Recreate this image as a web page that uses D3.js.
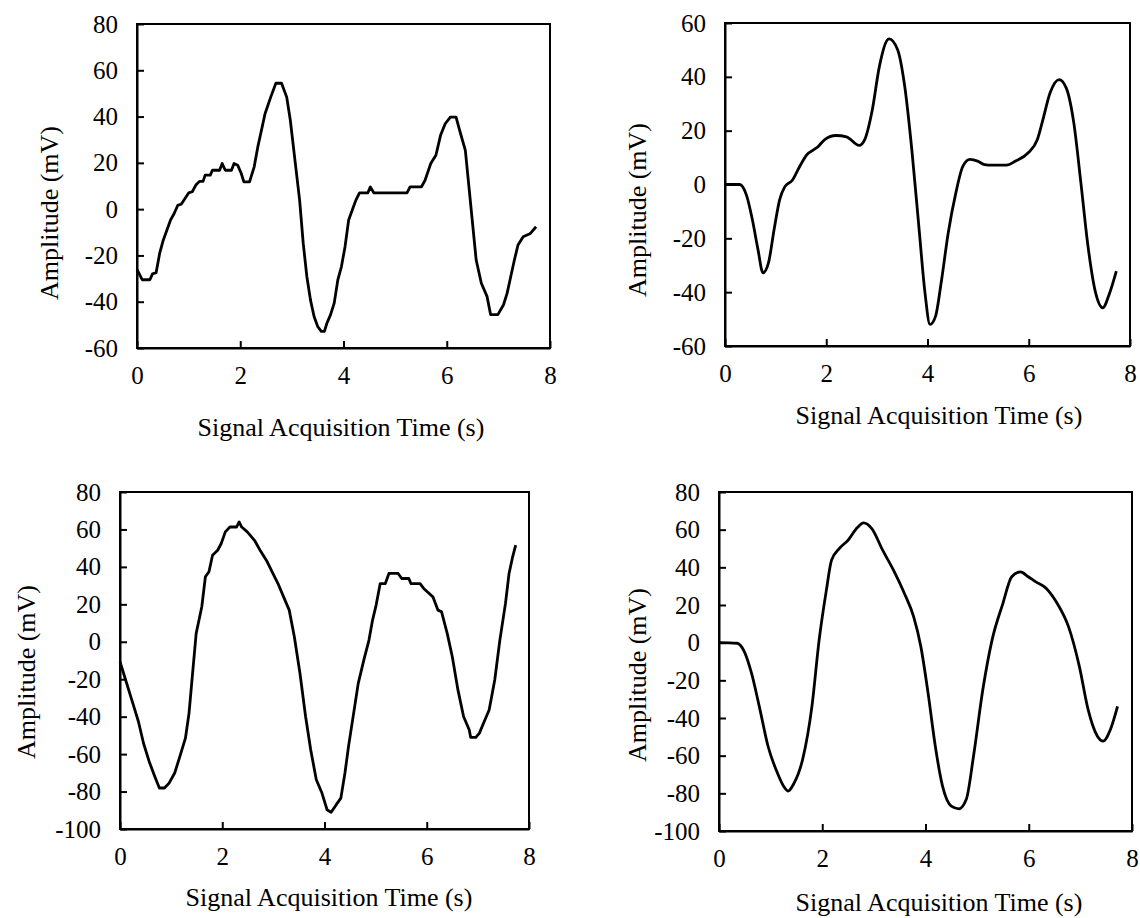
<!DOCTYPE html>
<html>
<head>
<meta charset="utf-8">
<script src="https://cdn.jsdelivr.net/npm/d3@7"></script>
<style>
body{margin:0;background:#fff;}
svg text{font-family:"Liberation Serif","Times New Roman",serif;fill:#000;}
</style>
</head>
<body>
<script>
// signal 1 (quantized)
const t1=[0,0.1,0.25,0.3,0.37,0.44,0.51,0.58,0.65,0.72,0.79,0.86,0.93,1.0,1.07,1.14,1.21,1.28,1.32,1.42,1.46,1.6,1.65,1.71,1.83,1.88,1.95,2.02,2.07,2.18,2.27,2.34,2.41,2.48,2.59,2.69,2.8,2.9,2.97,3.06,3.15,3.22,3.29,3.36,3.43,3.5,3.57,3.63,3.68,3.75,3.82,3.89,3.96,4.03,4.1,4.17,4.24,4.31,4.47,4.52,4.59,5.23,5.29,5.51,5.58,5.69,5.79,5.88,5.97,6.07,6.18,6.25,6.36,6.43,6.5,6.57,6.67,6.78,6.85,6.99,7.1,7.17,7.24,7.31,7.38,7.48,7.62,7.73];
const v1=[-26,-30.5,-30.5,-28,-27.5,-19,-13.3,-9,-4.7,-1.9,1.7,2.2,4.6,7,7.5,10.4,12,12,14.7,14.7,16.8,16.8,19.7,16.8,16.8,19.7,19,15.4,11.8,11.8,18.3,26.9,34,41.2,48.4,54.4,54.4,48.4,38.4,21.1,3.9,-14.8,-29.1,-39.2,-46.4,-50.7,-52.8,-52.8,-49.2,-45.6,-40.6,-30.6,-24.8,-16.2,-4.7,-0.4,3.9,7,7,9.6,7,7,9.6,9.6,12.5,19.7,23.3,31.9,36.9,39.8,39.8,34,25.4,9.6,-6.2,-22,-32,-37.7,-45.6,-45.6,-41.3,-36.3,-29.1,-22,-15.5,-11.9,-10.5,-7.6];

// signal 2 (smooth)
const t2=[0,0.29,0.43,0.54,0.65,0.75,0.86,0.97,1.08,1.18,1.33,1.47,1.61,1.83,1.97,2.19,2.4,2.65,2.76,2.91,3.05,3.24,3.41,3.55,3.69,3.84,3.95,4.05,4.16,4.27,4.41,4.56,4.7,4.84,4.99,5.13,5.27,5.56,5.74,5.99,6.17,6.28,6.42,6.6,6.74,6.89,7.03,7.17,7.32,7.46,7.6,7.73];
const v2=[0,0,-4.3,-13,-24,-32.8,-29,-16.7,-5.6,-0.9,1.6,6.5,10.9,13.9,16.7,18.2,17.7,14.5,16.7,27.8,43.9,54.1,50.1,36.5,13,-17.9,-40.2,-52,-48.9,-36.5,-17.9,-3.1,6.8,9.3,8.7,7.4,7.2,7.2,8.7,11.8,16.7,24.1,34,39,35.9,22.9,0.6,-22.9,-40.2,-45.8,-40.2,-32.2];

// signal 3 (quantized)
const t3=[0,0.11,0.25,0.36,0.46,0.57,0.68,0.77,0.87,0.96,1.07,1.17,1.28,1.35,1.42,1.49,1.6,1.67,1.74,1.81,1.91,1.98,2.06,2.15,2.28,2.33,2.38,2.49,2.63,2.74,2.88,2.99,3.09,3.2,3.31,3.41,3.52,3.63,3.73,3.84,3.95,4.05,4.13,4.23,4.32,4.4,4.47,4.55,4.66,4.77,4.87,4.94,5.01,5.09,5.19,5.26,5.44,5.51,5.65,5.69,5.87,5.94,6.01,6.12,6.22,6.29,6.4,6.5,6.61,6.72,6.83,6.86,6.96,7.03,7.11,7.22,7.33,7.43,7.54,7.61,7.68,7.74];
const v3=[-10.6,-20.4,-32.8,-42.6,-54.2,-63.9,-71.9,-78.1,-78.1,-75.5,-70.1,-61.3,-51.5,-38.2,-16.8,4.5,18.7,34.7,37.4,46.2,48.9,52.5,58.7,61.3,61.3,64,61.3,58.7,54.2,48.9,42.7,36.5,31.1,24,16.9,2.7,-16.8,-39.9,-57.7,-73.7,-80.8,-89.7,-91.1,-87,-83.5,-70.1,-55.9,-41.7,-22.2,-9.7,0.9,11.6,19.6,31.1,31.1,36.5,36.5,33.8,33.8,31.1,31.1,28.5,26.7,24,16.9,16,4.5,-8,-25.7,-39.9,-47,-51.1,-51.1,-48.8,-43.5,-36.4,-20.4,0.9,20.5,36.5,45.4,51.6];

// signal 4 (smooth)
const t4=[0,0.35,0.49,0.63,0.78,0.95,1.13,1.27,1.34,1.44,1.62,1.8,1.94,2.08,2.18,2.33,2.5,2.68,2.8,2.96,3.17,3.38,3.59,3.77,3.91,4.05,4.19,4.33,4.5,4.65,4.79,4.93,5.11,5.29,5.5,5.67,5.84,5.99,6.13,6.34,6.55,6.77,6.98,7.15,7.33,7.44,7.58,7.72];
const v4=[0,-0.3,-4.7,-16.2,-33.8,-55,-69.1,-77,-78.8,-75.3,-62,-33.8,1.5,27.9,43.8,50,54.4,61.1,63.6,60.6,49.1,38.5,26.2,13.8,-2.1,-26.8,-55,-76.2,-86.8,-88.2,-83.2,-60.3,-25,1.5,20.9,35,37.6,35,32.4,28.8,20.9,8.5,-12.6,-35.6,-49.7,-52.3,-46.2,-33.8];

const xTicks=[0,2,4,6,8];
const yTicksA=[-60,-40,-20,0,20,40,60,80];
const yTicksB=[-60,-40,-20,0,20,40,60];
const yTicksC=[-100,-80,-60,-40,-20,0,20,40,60,80];

const xLabel="Signal Acquisition Time (s)",
yLabel="Amplitude (mV)",
tickFont=25,
titleFont=26;

const panels=[
 {t:t1,v:v1,ticks:yTicksA,smooth:false,l:137,r:550,top:24,bot:348,tx:341,ty:427,yx:49,yy:213},
 {t:t2,v:v2,ticks:yTicksB,smooth:true,l:725,r:1130,top:23,bot:346,tx:939,ty:415,yx:637,yy:210},
 {t:t3,v:v3,ticks:yTicksC,smooth:false,l:120,r:529,top:492,bot:829,tx:329,ty:897,yx:26,yy:672},
 {t:t4,v:v4,ticks:yTicksC,smooth:true,l:719,r:1132,top:492,bot:831,tx:939,ty:902,yx:637,yy:675}
];

const svg=d3.select("body").append("svg")
 .attr("width",1140)
 .attr("height",918);

panels.forEach(p=>{
 const x=d3.scaleLinear().domain([0,8]).range([p.l,p.r]);
 const y=d3.scaleLinear().domain(d3.extent(p.ticks)).range([p.bot,p.top]);
 const g=svg.append("g");

 g.append("g")
  .attr("transform",`translate(0,${p.bot})`)
  .call(d3.axisBottom(x).tickValues(xTicks).tickFormat(d=>String(d)).tickSize(-7).tickSizeOuter(0).tickPadding(18))
  .call(a=>a.selectAll("text").style("font-size",tickFont+"px"))
  .call(a=>a.selectAll("line,path").attr("stroke","#000").attr("stroke-width",2));

 g.append("g")
  .attr("transform",`translate(${p.l},0)`)
  .call(d3.axisLeft(y).tickValues(p.ticks).tickFormat(d=>String(d)).tickSize(-7).tickSizeOuter(0).tickPadding(19))
  .call(a=>a.selectAll("text").style("font-size",tickFont+"px"))
  .call(a=>a.selectAll("line,path").attr("stroke","#000").attr("stroke-width",2));

 g.append("rect")
  .attr("x",p.l).attr("y",p.top)
  .attr("width",p.r-p.l).attr("height",p.bot-p.top)
  .attr("fill","none").attr("stroke","#000").attr("stroke-width",2);

 const line=d3.line()
  .x((d,i)=>x(p.t[i]))
  .y(d=>y(d))
  .curve(p.smooth?d3.curveMonotoneX:d3.curveLinear);

 g.append("path")
  .datum(p.v)
  .attr("d",line)
  .attr("fill","none")
  .attr("stroke","#000")
  .attr("stroke-width",2.8)
  .attr("stroke-linejoin","round");

 g.append("text")
  .attr("x",p.tx).attr("y",p.ty)
  .attr("text-anchor","middle")
  .attr("dy","0.35em")
  .style("font-size",titleFont+"px")
  .text(xLabel);

 g.append("text")
  .attr("transform",`translate(${p.yx},${p.yy}) rotate(-90)`)
  .attr("text-anchor","middle")
  .attr("dy","0.35em")
  .style("font-size",titleFont+"px")
  .text(yLabel);
});
</script>
</body>
</html>
